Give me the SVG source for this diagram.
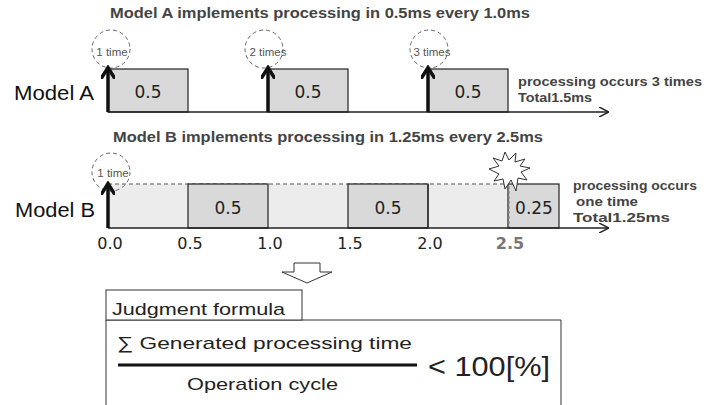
<svg xmlns="http://www.w3.org/2000/svg" width="718" height="405" viewBox="0 0 718 405">
<defs>
<style>
.title{font-family:"Liberation Sans",Arial,sans-serif;font-weight:bold;font-size:14.5px;fill:#444}
.note{font-family:"Liberation Sans",Arial,sans-serif;font-weight:bold;font-size:13.5px;fill:#444}
.model{font-family:"Liberation Sans",Arial,sans-serif;font-size:20px;fill:#111}
.val{font-family:"DejaVu Sans",sans-serif;font-size:17px;fill:#222;text-anchor:middle}
.tick{font-family:"DejaVu Sans",sans-serif;font-size:16px;fill:#222;text-anchor:middle}
.cnt{font-family:"Liberation Sans",Arial,sans-serif;font-size:11.5px;fill:#555;text-anchor:middle}
.circ{fill:none;stroke:#666;stroke-width:1;stroke-dasharray:4,3}
.box{fill:#d9d9d9;stroke:#222;stroke-width:1.2}
.axis{stroke:#222;stroke-width:1.5;fill:none}
.up{stroke:#111;stroke-width:3.5;fill:none}
.form{font-family:"Liberation Sans",Arial,sans-serif;font-size:17px;fill:#222}
</style>
<marker id="ah" viewBox="0 0 10 10" refX="9" refY="5" markerWidth="10" markerHeight="10" markerUnits="userSpaceOnUse" orient="auto"><path d="M0,0 L10,5 L0,10" fill="none" stroke="#222" stroke-width="1.5"/></marker>
<marker id="up" viewBox="0 0 10 10" refX="7" refY="5" markerWidth="14" markerHeight="14" markerUnits="userSpaceOnUse" orient="auto"><path d="M0,0 L8,5 L0,10" fill="none" stroke="#111" stroke-width="2.5"/></marker>
</defs>

<g id="modelA">
<text class="title" x="110" y="18" textLength="420" lengthAdjust="spacingAndGlyphs">Model A implements processing in 0.5ms every 1.0ms</text>
<text class="model" x="14" y="100" textLength="80" lengthAdjust="spacingAndGlyphs">Model A</text>
<rect class="box" x="108" y="69" width="80" height="43"/>
<rect class="box" x="268" y="69" width="80" height="43"/>
<rect class="box" x="428" y="69" width="80" height="43"/>
<text class="val" x="148" y="98">0.5</text>
<text class="val" x="308" y="98">0.5</text>
<text class="val" x="468" y="98">0.5</text>
<circle class="circ" cx="111" cy="49" r="19"/>
<circle class="circ" cx="264" cy="49" r="19"/>
<circle class="circ" cx="429" cy="49" r="19"/>
<text class="cnt" x="112" y="56">1 time</text>
<text class="cnt" x="268" y="56">2 times</text>
<text class="cnt" x="432" y="56">3 times</text>
<text class="note" x="518" y="86" textLength="184" lengthAdjust="spacingAndGlyphs">processing  occurs 3 times</text>
<text class="note" x="518" y="102" textLength="74" lengthAdjust="spacingAndGlyphs">Total1.5ms</text>
</g>

<g id="modelB">
<text class="title" x="113" y="142" textLength="430" lengthAdjust="spacingAndGlyphs">Model B implements processing in 1.25ms every 2.5ms</text>
<text class="model" x="15" y="217" textLength="80" lengthAdjust="spacingAndGlyphs">Model B</text>
<rect x="108" y="184" width="400" height="44" fill="#ececec"/>
<line x1="108" y1="184" x2="508" y2="184" stroke="#555" stroke-width="1.2" stroke-dasharray="4,3"/>
<rect class="box" x="188" y="184" width="80" height="44"/>
<rect class="box" x="348" y="184" width="80" height="44"/>
<line x1="428" y1="184" x2="428" y2="228" stroke="#222" stroke-width="1.2"/>
<rect x="508" y="184" width="51" height="44" fill="#d9d9d9" stroke="#222" stroke-width="1.2"/>
<line x1="509" y1="186" x2="509" y2="227" stroke="#888" stroke-width="1.2" stroke-dasharray="3,2"/>
<text class="val" x="228" y="214">0.5</text>
<text class="val" x="388" y="214">0.5</text>
<text class="val" x="534" y="214">0.25</text>
<circle class="circ" cx="111" cy="172" r="19"/>
<text class="cnt" x="113" y="177">1 time</text>
<path d="M505,152 L509,160 L516,153 L515,162 L525,159 L520,166 L530,168 L521,172 L527,180 L518,178 L516,191 L511,180 L505,189 L503,179 L494,181 L499,174 L489,169 L499,166 L493,158 L502,161 Z" fill="#fff" stroke="#333" stroke-width="1"/>
<text class="note" x="573" y="190" textLength="124" lengthAdjust="spacingAndGlyphs">processing occurs</text>
<text class="note" x="576" y="206" textLength="62" lengthAdjust="spacingAndGlyphs">one time</text>
<text class="note" x="573" y="222" textLength="97" lengthAdjust="spacingAndGlyphs">Total1.25ms</text>
<text class="tick" x="110" y="249">0.0</text>
<text class="tick" x="190" y="249">0.5</text>
<text class="tick" x="270" y="249">1.0</text>
<text class="tick" x="350" y="249">1.5</text>
<text class="tick" x="430" y="249">2.0</text>
<text class="tick" x="510" y="249" style="font-weight:bold;fill:#777">2.5</text>
</g>

<g id="connectors">
<line class="axis" x1="108" y1="112" x2="608" y2="112" marker-end="url(#ah)"/>
<line class="axis" x1="108" y1="228" x2="608" y2="228" marker-end="url(#ah)"/>
<line class="up" x1="108" y1="112" x2="108" y2="69" marker-end="url(#up)"/>
<line class="up" x1="268" y1="112" x2="268" y2="69" marker-end="url(#up)"/>
<line class="up" x1="428" y1="112" x2="428" y2="69" marker-end="url(#up)"/>
<line class="up" x1="108" y1="228" x2="108" y2="185" marker-end="url(#up)"/>
<path d="M294,263 L320,263 L320,272 L332,272 L307,283 L282,272 L294,272 Z" fill="#fff" stroke="#333" stroke-width="1"/>
</g>

<g id="judgment">
<path d="M106,405 L106,320 L561,320 L561,405" fill="#fff" stroke="#333" stroke-width="1"/>
<rect x="106" y="290" width="196" height="30" fill="#fff" stroke="#333" stroke-width="1"/>
<text class="form" x="112" y="315" textLength="173" lengthAdjust="spacingAndGlyphs">Judgment formula</text>
<text class="form" x="117" y="349" textLength="295" lengthAdjust="spacingAndGlyphs">∑  Generated processing time</text>
<line x1="118" y1="365" x2="417" y2="365" stroke="#111" stroke-width="3"/>
<text class="form" x="187" y="390" textLength="151" lengthAdjust="spacingAndGlyphs">Operation cycle</text>
<text x="428" y="376" textLength="122" lengthAdjust="spacingAndGlyphs" style="font-family:'Liberation Sans',Arial,sans-serif;font-size:27px;fill:#222">&lt; 100[%]</text>
</g>
</svg>
